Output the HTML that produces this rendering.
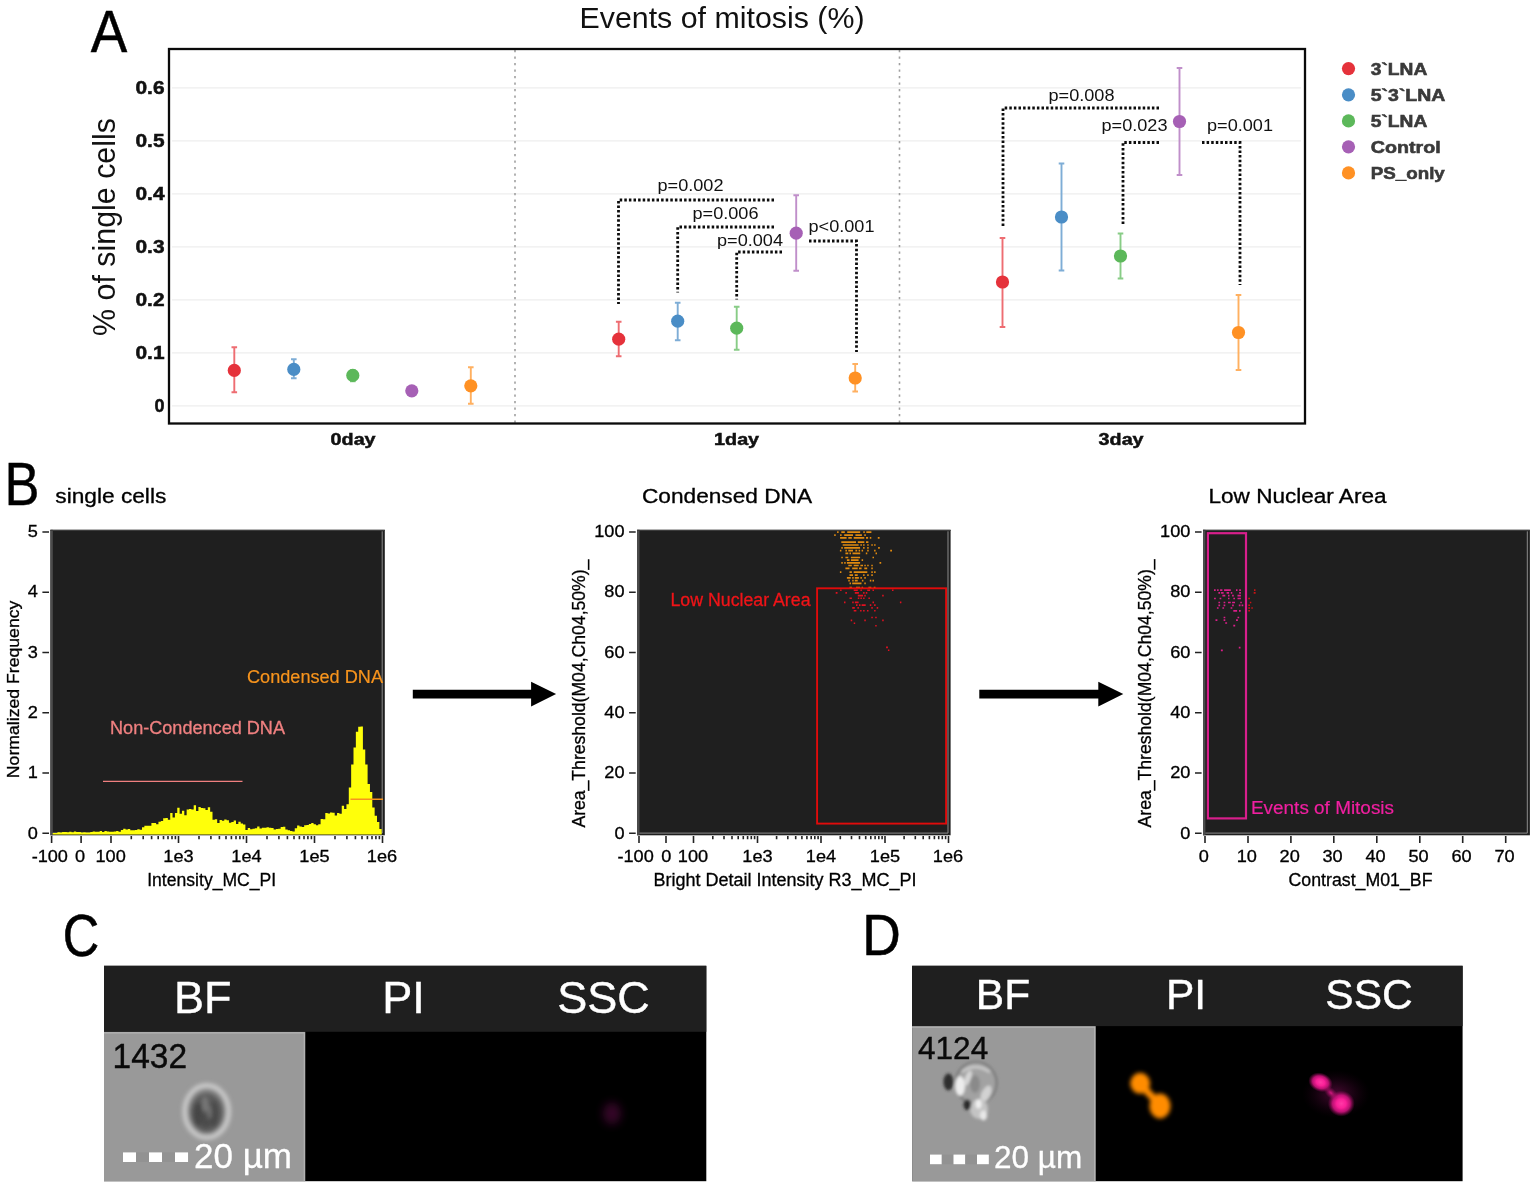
<!DOCTYPE html>
<html lang="en"><head><meta charset="utf-8"><title>Events of mitosis</title>
<style>
html,body{margin:0;padding:0;background:#fff;}
body{width:1535px;height:1187px;overflow:hidden;}
svg{display:block;}
text{font-family:"Liberation Sans", sans-serif;}
.cal{font-family:"Liberation Sans", sans-serif;}
.b{font-weight:bold;}
.tk{font-size:17.5px;fill:#111;}
.pv{font-size:17px;fill:#111;}
</style></head><body>
<svg width="1535" height="1187" viewBox="0 0 1535 1187">
<rect width="1535" height="1187" fill="#fff"/>

<g id="panelA">
<text x="90.7" y="52" font-size="60" fill="#000" textLength="36.5" lengthAdjust="spacingAndGlyphs" stroke="#000" stroke-width="0.5">A</text>
<text x="722" y="28" font-size="29" text-anchor="middle" fill="#111" textLength="285" lengthAdjust="spacingAndGlyphs">Events of mitosis (%)</text>
<text transform="translate(115,227) rotate(-90)" font-size="31" text-anchor="middle" fill="#111" textLength="218" lengthAdjust="spacingAndGlyphs">% of single cells</text>
<line x1="172" x2="1301" y1="87.9" y2="87.9" stroke="#eeeeee" stroke-width="1.4"/>
<text x="135.5" y="93.9" class="tk b" textLength="29" lengthAdjust="spacingAndGlyphs" stroke="#111" stroke-width="0.5">0.6</text>
<line x1="172" x2="1301" y1="140.9" y2="140.9" stroke="#eeeeee" stroke-width="1.4"/>
<text x="135.5" y="146.9" class="tk b" textLength="29" lengthAdjust="spacingAndGlyphs" stroke="#111" stroke-width="0.5">0.5</text>
<line x1="172" x2="1301" y1="193.9" y2="193.9" stroke="#eeeeee" stroke-width="1.4"/>
<text x="135.5" y="199.9" class="tk b" textLength="29" lengthAdjust="spacingAndGlyphs" stroke="#111" stroke-width="0.5">0.4</text>
<line x1="172" x2="1301" y1="246.9" y2="246.9" stroke="#eeeeee" stroke-width="1.4"/>
<text x="135.5" y="252.9" class="tk b" textLength="29" lengthAdjust="spacingAndGlyphs" stroke="#111" stroke-width="0.5">0.3</text>
<line x1="172" x2="1301" y1="299.9" y2="299.9" stroke="#eeeeee" stroke-width="1.4"/>
<text x="135.5" y="305.9" class="tk b" textLength="29" lengthAdjust="spacingAndGlyphs" stroke="#111" stroke-width="0.5">0.2</text>
<line x1="172" x2="1301" y1="352.9" y2="352.9" stroke="#eeeeee" stroke-width="1.4"/>
<text x="135.5" y="358.9" class="tk b" textLength="29" lengthAdjust="spacingAndGlyphs" stroke="#111" stroke-width="0.5">0.1</text>
<line x1="172" x2="1301" y1="405.9" y2="405.9" stroke="#eeeeee" stroke-width="1.4"/>
<text x="154.5" y="411.9" class="tk b" textLength="10" lengthAdjust="spacingAndGlyphs" stroke="#111" stroke-width="0.5">0</text>
<line x1="515" x2="515" y1="50" y2="423" stroke="#a0a0a0" stroke-width="1.6" stroke-dasharray="2.2 4.3"/>
<line x1="899.5" x2="899.5" y1="50" y2="423" stroke="#a0a0a0" stroke-width="1.6" stroke-dasharray="2.2 4.3"/>
<rect x="169" y="49" width="1136" height="374.5" fill="none" stroke="#0a0a0a" stroke-width="2.3"/>
<text x="330.6" y="445.3" class="b" font-size="16.5" fill="#111" textLength="45" lengthAdjust="spacingAndGlyphs" stroke="#111" stroke-width="0.5">0day</text>
<text x="714.1" y="445.3" class="b" font-size="16.5" fill="#111" textLength="45" lengthAdjust="spacingAndGlyphs" stroke="#111" stroke-width="0.5">1day</text>
<text x="1098.6" y="445.3" class="b" font-size="16.5" fill="#111" textLength="45" lengthAdjust="spacingAndGlyphs" stroke="#111" stroke-width="0.5">3day</text>
<path d="M234.3 347.3V392.3M231.5 347.3h5.6M231.5 392.3h5.6" stroke="#ee6d72" stroke-width="1.9" fill="none"/>
<circle cx="234.3" cy="370.4" r="6.6" fill="#e5323b"/>
<path d="M293.8 359.3V378.3M291.0 359.3h5.6M291.0 378.3h5.6" stroke="#7eadd6" stroke-width="1.9" fill="none"/>
<circle cx="293.8" cy="369.4" r="6.6" fill="#4a8dc6"/>
<path d="M352.8 370.3V381.3M350.0 370.3h5.6M350.0 381.3h5.6" stroke="#88cc86" stroke-width="1.9" fill="none"/>
<circle cx="352.8" cy="375.4" r="6.6" fill="#5cb85a"/>
<path d="M411.8 388.3V393.3M409.0 388.3h5.6M409.0 393.3h5.6" stroke="#c08fca" stroke-width="1.9" fill="none"/>
<circle cx="411.8" cy="390.8" r="6.6" fill="#a660b5"/>
<path d="M470.8 367.3V403.8M468.0 367.3h5.6M468.0 403.8h5.6" stroke="#ffb060" stroke-width="1.9" fill="none"/>
<circle cx="470.8" cy="385.8" r="6.6" fill="#ff9124"/>
<path d="M618.7 321.7V356.2M615.9000000000001 321.7h5.6M615.9000000000001 356.2h5.6" stroke="#ee6d72" stroke-width="1.9" fill="none"/>
<circle cx="618.7" cy="339.2" r="6.6" fill="#e5323b"/>
<path d="M677.7 302.7V340.2M674.9000000000001 302.7h5.6M674.9000000000001 340.2h5.6" stroke="#7eadd6" stroke-width="1.9" fill="none"/>
<circle cx="677.7" cy="321.2" r="6.6" fill="#4a8dc6"/>
<path d="M736.7 306.7V349.7M733.9000000000001 306.7h5.6M733.9000000000001 349.7h5.6" stroke="#88cc86" stroke-width="1.9" fill="none"/>
<circle cx="736.7" cy="328.2" r="6.6" fill="#5cb85a"/>
<path d="M796.2 195.2V270.7M793.4000000000001 195.2h5.6M793.4000000000001 270.7h5.6" stroke="#c08fca" stroke-width="1.9" fill="none"/>
<circle cx="796.2" cy="233.2" r="6.6" fill="#a660b5"/>
<path d="M855.2 364V391.5M852.4000000000001 364h5.6M852.4000000000001 391.5h5.6" stroke="#ffb060" stroke-width="1.9" fill="none"/>
<circle cx="855.2" cy="378" r="6.6" fill="#ff9124"/>
<path d="M1002.5 238V327M999.7 238h5.6M999.7 327h5.6" stroke="#ee6d72" stroke-width="1.9" fill="none"/>
<circle cx="1002.5" cy="282" r="6.6" fill="#e5323b"/>
<path d="M1061.5 163.5V270.5M1058.7 163.5h5.6M1058.7 270.5h5.6" stroke="#7eadd6" stroke-width="1.9" fill="none"/>
<circle cx="1061.5" cy="217" r="6.6" fill="#4a8dc6"/>
<path d="M1120.5 233.5V278.5M1117.7 233.5h5.6M1117.7 278.5h5.6" stroke="#88cc86" stroke-width="1.9" fill="none"/>
<circle cx="1120.5" cy="256" r="6.6" fill="#5cb85a"/>
<path d="M1179.5 68V175M1176.7 68h5.6M1176.7 175h5.6" stroke="#c08fca" stroke-width="1.9" fill="none"/>
<circle cx="1179.5" cy="121.5" r="6.6" fill="#a660b5"/>
<path d="M1238.5 295V370M1235.7 295h5.6M1235.7 370h5.6" stroke="#ffb060" stroke-width="1.9" fill="none"/>
<circle cx="1238.5" cy="332.5" r="6.6" fill="#ff9124"/>
<circle cx="1348.5" cy="68.6" r="6.6" fill="#e5323b"/>
<text x="1370.8" y="74.89999999999999" class="b" font-size="17" fill="#3a3a3a" textLength="56.5" lengthAdjust="spacingAndGlyphs" stroke="#3a3a3a" stroke-width="0.6">3`LNA</text>
<circle cx="1348.5" cy="94.8" r="6.6" fill="#4a8dc6"/>
<text x="1370.8" y="101.1" class="b" font-size="17" fill="#3a3a3a" textLength="74.5" lengthAdjust="spacingAndGlyphs" stroke="#3a3a3a" stroke-width="0.6">5`3`LNA</text>
<circle cx="1348.5" cy="120.9" r="6.6" fill="#5cb85a"/>
<text x="1370.8" y="127.2" class="b" font-size="17" fill="#3a3a3a" textLength="56.5" lengthAdjust="spacingAndGlyphs" stroke="#3a3a3a" stroke-width="0.6">5`LNA</text>
<circle cx="1348.5" cy="146.8" r="6.6" fill="#a660b5"/>
<text x="1370.8" y="153.10000000000002" class="b" font-size="17" fill="#3a3a3a" textLength="69.8" lengthAdjust="spacingAndGlyphs" stroke="#3a3a3a" stroke-width="0.6">Control</text>
<circle cx="1348.5" cy="172.9" r="6.6" fill="#ff9124"/>
<text x="1370.8" y="179.20000000000002" class="b" font-size="17" fill="#3a3a3a" textLength="74" lengthAdjust="spacingAndGlyphs" stroke="#3a3a3a" stroke-width="0.6">PS_only</text>
<path d="M774 200H618.5V304" fill="none" stroke="#0c0c0c" stroke-width="2.8" stroke-dasharray="2.5 2.1"/>
<path d="M774 227H677.7V292.5" fill="none" stroke="#0c0c0c" stroke-width="2.8" stroke-dasharray="2.5 2.1"/>
<path d="M782 252H736.7V299.5" fill="none" stroke="#0c0c0c" stroke-width="2.8" stroke-dasharray="2.5 2.1"/>
<path d="M809 241H856.5V352" fill="none" stroke="#0c0c0c" stroke-width="2.8" stroke-dasharray="2.5 2.1"/>
<path d="M1159 108H1003V228" fill="none" stroke="#0c0c0c" stroke-width="2.8" stroke-dasharray="2.5 2.1"/>
<path d="M1159 142.5H1123V226" fill="none" stroke="#0c0c0c" stroke-width="2.8" stroke-dasharray="2.5 2.1"/>
<path d="M1202 142.5H1240V285" fill="none" stroke="#0c0c0c" stroke-width="2.8" stroke-dasharray="2.5 2.1"/>
<text x="690.5" y="191" class="pv" text-anchor="middle" textLength="66" lengthAdjust="spacingAndGlyphs">p=0.002</text>
<text x="725.5" y="218.5" class="pv" text-anchor="middle" textLength="66" lengthAdjust="spacingAndGlyphs">p=0.006</text>
<text x="750" y="246" class="pv" text-anchor="middle" textLength="66" lengthAdjust="spacingAndGlyphs">p=0.004</text>
<text x="841.5" y="232" class="pv" text-anchor="middle" textLength="66" lengthAdjust="spacingAndGlyphs">p&lt;0.001</text>
<text x="1081.5" y="100.5" class="pv" text-anchor="middle" textLength="66" lengthAdjust="spacingAndGlyphs">p=0.008</text>
<text x="1134.5" y="131" class="pv" text-anchor="middle" textLength="66" lengthAdjust="spacingAndGlyphs">p=0.023</text>
<text x="1240" y="131" class="pv" text-anchor="middle" textLength="66" lengthAdjust="spacingAndGlyphs">p=0.001</text>
</g>
<g id="panelB">
<text x="4.5" y="504.5" font-size="61" fill="#000" textLength="35" lengthAdjust="spacingAndGlyphs" stroke="#000" stroke-width="0.4">B</text>
<rect x="50.4" y="529.8" width="334.40000000000003" height="305.5" fill="#1f1f1f"/>
<rect x="50.4" y="529.8" width="2.4" height="305.5" fill="#4c4c4c"/>
<rect x="50.4" y="529.8" width="334.40000000000003" height="1.2" fill="#3c3c3c"/>
<path d="M382.2 531.3V833.0999999999999H52.8" fill="none" stroke="#8c8c8c" stroke-width="1"/>
<text x="55.3" y="503" font-size="19.5" fill="#000" textLength="111" lengthAdjust="spacingAndGlyphs" stroke="#000" stroke-width="0.3">single cells</text>
<text x="37.8" y="537.1999999999999" font-size="16.5" fill="#000" text-anchor="end" textLength="10.1" lengthAdjust="spacingAndGlyphs" stroke="#000" stroke-width="0.3">5</text>
<text x="37.8" y="597.4599999999999" font-size="16.5" fill="#000" text-anchor="end" textLength="10.1" lengthAdjust="spacingAndGlyphs" stroke="#000" stroke-width="0.3">4</text>
<text x="37.8" y="657.7199999999999" font-size="16.5" fill="#000" text-anchor="end" textLength="10.1" lengthAdjust="spacingAndGlyphs" stroke="#000" stroke-width="0.3">3</text>
<text x="37.8" y="717.9799999999999" font-size="16.5" fill="#000" text-anchor="end" textLength="10.1" lengthAdjust="spacingAndGlyphs" stroke="#000" stroke-width="0.3">2</text>
<text x="37.8" y="778.24" font-size="16.5" fill="#000" text-anchor="end" textLength="10.1" lengthAdjust="spacingAndGlyphs" stroke="#000" stroke-width="0.3">1</text>
<text x="37.8" y="838.5" font-size="16.5" fill="#000" text-anchor="end" textLength="10.1" lengthAdjust="spacingAndGlyphs" stroke="#000" stroke-width="0.3">0</text>
<path d="M42.4 531.9h6.6M42.4 592.16h6.6M42.4 652.42h6.6M42.4 712.68h6.6M42.4 772.94h6.6M42.4 833.2h6.6" stroke="#222" stroke-width="1.5" fill="none"/>
<text transform="translate(18.6,689.4) rotate(-90)" font-size="17" fill="#000" stroke="#000" stroke-width="0.3" text-anchor="middle" textLength="177.5" lengthAdjust="spacingAndGlyphs">Normalized Frequency</text>
<text x="49.8" y="862" font-size="16.5" fill="#000" text-anchor="middle" textLength="36.3" lengthAdjust="spacingAndGlyphs" stroke="#000" stroke-width="0.3">-100</text>
<text x="80.1" y="862" font-size="16.5" fill="#000" text-anchor="middle" textLength="10.1" lengthAdjust="spacingAndGlyphs" stroke="#000" stroke-width="0.3">0</text>
<text x="110.6" y="862" font-size="16.5" fill="#000" text-anchor="middle" textLength="30.3" lengthAdjust="spacingAndGlyphs" stroke="#000" stroke-width="0.3">100</text>
<text x="178.5" y="862" font-size="16.5" fill="#000" text-anchor="middle" textLength="30.3" lengthAdjust="spacingAndGlyphs" stroke="#000" stroke-width="0.3">1e3</text>
<text x="246.5" y="862" font-size="16.5" fill="#000" text-anchor="middle" textLength="30.3" lengthAdjust="spacingAndGlyphs" stroke="#000" stroke-width="0.3">1e4</text>
<text x="314.5" y="862" font-size="16.5" fill="#000" text-anchor="middle" textLength="30.3" lengthAdjust="spacingAndGlyphs" stroke="#000" stroke-width="0.3">1e5</text>
<text x="382" y="862" font-size="16.5" fill="#000" text-anchor="middle" textLength="30.3" lengthAdjust="spacingAndGlyphs" stroke="#000" stroke-width="0.3">1e6</text>
<text x="211.7" y="886" font-size="18" fill="#000" text-anchor="middle" textLength="129" lengthAdjust="spacingAndGlyphs" stroke="#000" stroke-width="0.3">Intensity_MC_PI</text>
<path d="M51.6 836v7M81.1 836v7M111 836v7M178.5 836v7M246.5 836v7M314.5 836v7M382.5 836v7M131.3 836v3.2M143.2 836v3.2M151.6 836v3.2M158.2 836v3.2M163.5 836v3.2M168.0 836v3.2M172.0 836v3.2M175.4 836v3.2M199.0 836v3.2M210.9 836v3.2M219.4 836v3.2M226.0 836v3.2M231.4 836v3.2M236.0 836v3.2M239.9 836v3.2M243.4 836v3.2M267.0 836v3.2M278.9 836v3.2M287.4 836v3.2M294.0 836v3.2M299.4 836v3.2M304.0 836v3.2M307.9 836v3.2M311.4 836v3.2M335.0 836v3.2M346.9 836v3.2M355.4 836v3.2M362.0 836v3.2M367.4 836v3.2M372.0 836v3.2M375.9 836v3.2M379.4 836v3.2" stroke="#222" stroke-width="1.6" fill="none"/>
<path d="M52.7 834.4V832.9h2.35V832.9h2.35V832.3h2.35V832.6h2.35V832.0h2.35V832.1h2.35V832.3h2.35V831.8h2.35V832.2h2.35V831.6h2.35V832.0h2.35V831.9h2.35V832.5h2.35V832.2h2.35V832.6h2.35V832.4h2.35V831.9h2.35V831.5h2.35V831.8h2.35V831.8h2.35V831.1h2.35V832.0h2.35V830.9h2.35V831.6h2.35V831.8h2.35V831.8h2.35V831.6h2.35V831.0h2.35V831.7h2.35V830.1h2.35V828.7h2.35V829.4h2.35V829.1h2.35V830.2h2.35V830.3h2.35V830.1h2.35V829.3h2.35V829.8h2.35V827.2h2.35V825.8h2.35V825.7h2.35V825.7h2.35V823.1h2.35V822.9h2.35V824.3h2.35V821.8h2.35V821.1h2.35V818.2h2.35V818.0h2.35V819.8h2.35V812.9h2.35V817.4h2.35V813.0h2.35V807.8h2.35V813.8h2.35V810.8h2.35V815.3h2.35V809.6h2.35V808.9h2.35V809.5h2.35V805.3h2.35V811.0h2.35V807.1h2.35V808.1h2.35V808.3h2.35V810.1h2.35V807.3h2.35V811.8h2.35V819.8h2.35V819.2h2.35V823.0h2.35V820.0h2.35V820.8h2.35V819.5h2.35V820.2h2.35V822.7h2.35V822.0h2.35V820.4h2.35V823.9h2.35V821.8h2.35V823.5h2.35V824.4h2.35V829.9h2.35V828.1h2.35V829.3h2.35V828.8h2.35V828.2h2.35V826.6h2.35V828.6h2.35V827.8h2.35V827.8h2.35V827.3h2.35V827.7h2.35V828.0h2.35V829.5h2.35V828.9h2.35V828.7h2.35V827.1h2.35V826.8h2.35V829.6h2.35V830.3h2.35V831.0h2.35V831.4h2.35V828.3h2.35V825.6h2.35V826.4h2.35V827.1h2.35V825.2h2.35V825.1h2.35V824.1h2.35V822.9h2.35V824.2h2.35V825.2h2.35V824.3h2.35V819.0h2.35V819.3h2.35V812.9h2.35V813.5h2.35V812.5h2.35V812.8h2.35V815.4h2.35V813.1h2.35V813.7h2.35V805.8h2.35V809.1h2.35V804.2h2.35V787.6h2.35V764.4h2.35V747.5h2.35V731.8h2.35V726.8h2.35V726.5h2.35V749.4h2.35V764.5h2.35V784.1h2.35V792.0h2.35V807.5h2.35V815.7h2.35V822.1h2.35V829.0h2.35V834.4h2.35V834.4Z" fill="#ffff0a"/>
<line x1="103" x2="242.5" y1="781.4" y2="781.4" stroke="#f08080" stroke-width="1.4"/>
<line x1="350.5" x2="383" y1="799.3" y2="799.3" stroke="#f7941d" stroke-width="1.4"/>
<text x="247" y="682.5" font-size="18" fill="#f7941d" textLength="136" lengthAdjust="spacingAndGlyphs" stroke="#f7941d" stroke-width="0.2">Condensed DNA</text>
<text x="110" y="733.8" font-size="18" fill="#f08080" textLength="175" lengthAdjust="spacingAndGlyphs" stroke="#f08080" stroke-width="0.3">Non-Condenced DNA</text>
<path d="M412.8 689.8000000000001H531.1V681.8000000000001L556.1 694.1L531.1 706.4V698.4H412.8Z" fill="#000"/>
<path d="M979.3 689.8000000000001H1098.3V681.8000000000001L1123.3 694.1L1098.3 706.4V698.4H979.3Z" fill="#000"/>
<rect x="637.1" y="529.8" width="313.5" height="305.5" fill="#1f1f1f"/>
<rect x="637.1" y="529.8" width="2.4" height="305.5" fill="#4c4c4c"/>
<rect x="637.1" y="529.8" width="313.5" height="1.2" fill="#3c3c3c"/>
<path d="M948.0 531.3V833.0999999999999H639.5" fill="none" stroke="#8c8c8c" stroke-width="1"/>
<text x="642" y="503" font-size="19.5" fill="#000" textLength="170" lengthAdjust="spacingAndGlyphs" stroke="#000" stroke-width="0.3">Condensed DNA</text>
<text x="624.5" y="537.1999999999999" font-size="16.5" fill="#000" text-anchor="end" textLength="30.3" lengthAdjust="spacingAndGlyphs" stroke="#000" stroke-width="0.3">100</text>
<text x="624.5" y="597.4599999999999" font-size="16.5" fill="#000" text-anchor="end" textLength="20.2" lengthAdjust="spacingAndGlyphs" stroke="#000" stroke-width="0.3">80</text>
<text x="624.5" y="657.7199999999999" font-size="16.5" fill="#000" text-anchor="end" textLength="20.2" lengthAdjust="spacingAndGlyphs" stroke="#000" stroke-width="0.3">60</text>
<text x="624.5" y="717.9799999999999" font-size="16.5" fill="#000" text-anchor="end" textLength="20.2" lengthAdjust="spacingAndGlyphs" stroke="#000" stroke-width="0.3">40</text>
<text x="624.5" y="778.24" font-size="16.5" fill="#000" text-anchor="end" textLength="20.2" lengthAdjust="spacingAndGlyphs" stroke="#000" stroke-width="0.3">20</text>
<text x="624.5" y="838.5" font-size="16.5" fill="#000" text-anchor="end" textLength="10.1" lengthAdjust="spacingAndGlyphs" stroke="#000" stroke-width="0.3">0</text>
<path d="M629.1 531.9h6.6M629.1 592.16h6.6M629.1 652.42h6.6M629.1 712.68h6.6M629.1 772.94h6.6M629.1 833.2h6.6" stroke="#222" stroke-width="1.5" fill="none"/>
<text transform="translate(585.4,693.6) rotate(-90)" font-size="18.5" fill="#000" stroke="#000" stroke-width="0.3" text-anchor="middle" textLength="268" lengthAdjust="spacingAndGlyphs">Area_Threshold(M04,Ch04,50%)_</text>
<text x="635.6" y="862" font-size="16.5" fill="#000" text-anchor="middle" textLength="36.3" lengthAdjust="spacingAndGlyphs" stroke="#000" stroke-width="0.3">-100</text>
<text x="666.2" y="862" font-size="16.5" fill="#000" text-anchor="middle" textLength="10.1" lengthAdjust="spacingAndGlyphs" stroke="#000" stroke-width="0.3">0</text>
<text x="693" y="862" font-size="16.5" fill="#000" text-anchor="middle" textLength="30.3" lengthAdjust="spacingAndGlyphs" stroke="#000" stroke-width="0.3">100</text>
<text x="757.5" y="862" font-size="16.5" fill="#000" text-anchor="middle" textLength="30.3" lengthAdjust="spacingAndGlyphs" stroke="#000" stroke-width="0.3">1e3</text>
<text x="821" y="862" font-size="16.5" fill="#000" text-anchor="middle" textLength="30.3" lengthAdjust="spacingAndGlyphs" stroke="#000" stroke-width="0.3">1e4</text>
<text x="885" y="862" font-size="16.5" fill="#000" text-anchor="middle" textLength="30.3" lengthAdjust="spacingAndGlyphs" stroke="#000" stroke-width="0.3">1e5</text>
<text x="948" y="862" font-size="16.5" fill="#000" text-anchor="middle" textLength="30.3" lengthAdjust="spacingAndGlyphs" stroke="#000" stroke-width="0.3">1e6</text>
<path d="M639 836v7M666 836v7M693.5 836v7M757.5 836v7M821 836v7M885 836v7M948.5 836v7M712.8 836v3.2M724.0 836v3.2M732.0 836v3.2M738.2 836v3.2M743.3 836v3.2M747.6 836v3.2M751.3 836v3.2M754.6 836v3.2M776.6 836v3.2M787.8 836v3.2M795.7 836v3.2M801.9 836v3.2M806.9 836v3.2M811.2 836v3.2M814.8 836v3.2M818.1 836v3.2M840.3 836v3.2M851.5 836v3.2M859.5 836v3.2M865.7 836v3.2M870.8 836v3.2M875.1 836v3.2M878.8 836v3.2M882.1 836v3.2M904.1 836v3.2M915.3 836v3.2M923.2 836v3.2M929.4 836v3.2M934.4 836v3.2M938.7 836v3.2M942.3 836v3.2M945.6 836v3.2" stroke="#222" stroke-width="1.6" fill="none"/>
<text x="785" y="886" font-size="18" fill="#000" text-anchor="middle" textLength="263" lengthAdjust="spacingAndGlyphs" stroke="#000" stroke-width="0.3">Bright Detail Intensity R3_MC_PI</text>
<path d="M837.1 532.1h1.5M841.3 532.1h3.5M847.2 532.1h13.0M863.3 532.1h1.5M866.3 532.1h5.1M834.2 535.1h1.5M840.1 535.1h1.5M844.2 535.1h8.8M855.4 535.1h6.5M864.3 535.1h1.5M840.1 537.9h6.5M848.3 537.9h3.5M853.7 537.9h10.6M866.0 537.9h2.1M869.8 537.9h1.5M877.8 537.9h1.8M841.3 542.1h14.7M857.8 542.1h6.5M866.0 542.1h2.4M842.7 545.0h15.9M860.4 545.0h1.5M863.1 545.0h1.5M867.2 545.0h1.5M871.3 545.0h1.5M874.1 545.0h1.5M841.3 547.9h1.5M844.2 547.9h15.9M863.1 547.9h1.5M867.2 547.9h1.5M878.1 547.9h1.7M839.9 550.7h1.5M845.4 550.7h1.5M848.3 550.7h4.7M855.4 550.7h1.8M858.6 550.7h1.5M861.6 550.7h1.5M867.2 550.7h1.5M874.1 550.7h1.5M890.2 550.7h1.8M845.4 553.4h2.9M849.5 553.4h1.5M852.5 553.4h7.7M865.8 553.4h1.5M875.5 553.4h1.5M841.3 557.5h1.5M845.4 557.5h2.9M850.9 557.5h9.2M872.5 557.5h1.5M846.9 560.1h2.6M850.9 560.1h7.7M861.6 560.1h1.5M841.3 562.8h1.5M844.2 562.8h1.5M846.9 562.8h13.2M879.5 562.8h1.7M848.3 565.5h3.5M853.7 565.5h5.0M860.4 565.5h2.6M864.3 565.5h1.5M867.2 565.5h1.5M871.3 565.5h1.5M845.4 568.3h4.1M852.2 568.3h5.5M859.0 568.3h2.6M864.3 568.3h2.9M871.3 568.3h1.5M839.9 572.2h1.5M849.5 572.2h2.4M853.7 572.2h13.6M871.3 572.2h1.5M874.1 572.2h1.5M849.5 575.1h3.5M854.8 575.1h2.9M863.1 575.1h1.5M867.2 575.1h1.5M871.3 575.1h1.5M846.9 577.9h3.8M852.2 577.9h1.5M854.8 577.9h4.1M860.4 577.9h1.5M864.3 577.9h1.5M848.3 580.7h1.5M852.2 580.7h1.5M854.8 580.7h2.9M861.9 580.7h1.5M869.8 580.7h1.5M872.5 580.7h1.5M849.5 583.4h1.5M852.2 583.4h9.3M864.3 583.4h1.5M849.5 587.5h2.4M856.0 587.5h4.1M861.6 587.5h1.5M868.4 587.5h2.9M873.7 587.5h1.8" stroke="#e08a10" stroke-width="1.7" fill="none"/>
<path d="M840.1 590.2h1.5M853.7 590.2h4.1M860.4 590.2h1.5M867.2 590.2h2.9M872.5 590.2h1.5M892.0 590.2h1.5M835.7 592.9h1.8M845.4 592.9h1.5M854.8 592.9h4.1M863.1 592.9h1.5M865.8 592.9h1.5M857.8 595.6h5.3M864.3 595.6h1.5M882.2 595.6h1.5M849.5 598.3h2.4M857.8 598.3h1.5M860.4 598.3h1.5M863.1 598.3h1.5M868.4 598.3h1.5M844.0 602.4h1.5M852.2 602.4h1.5M854.8 602.4h3.8M872.5 602.4h1.5M899.9 602.4h1.5M856.0 605.1h1.5M859.0 605.1h1.5M861.6 605.1h4.1M869.8 605.1h1.5M874.1 605.1h1.5M852.2 607.9h2.6M857.4 607.9h1.5M871.3 607.9h1.5M876.7 607.9h1.5M853.7 610.7h2.7M860.1 610.7h1.5M863.1 610.7h1.5M867.0 610.7h1.5M874.1 610.7h1.5M871.3 617.5h1.5M875.2 617.5h1.5M850.7 620.4h1.5M864.3 620.4h1.5M882.2 620.4h1.5M853.7 623.2h1.5M875.2 625.8h1.5M886.1 647.4h1.8M887.9 650.3h1.5" stroke="#e21020" stroke-width="1.6" fill="none"/>
<rect x="817.1" y="588.3" width="129" height="235.3" fill="none" stroke="#e00b0b" stroke-width="1.9"/>
<text x="670.5" y="605.9" font-size="18" fill="#f01418" textLength="140" lengthAdjust="spacingAndGlyphs" stroke="#f01418" stroke-width="0.3">Low Nuclear Area</text>
<rect x="1203" y="529.8" width="326.9000000000001" height="305.5" fill="#1f1f1f"/>
<rect x="1203" y="529.8" width="2.4" height="305.5" fill="#4c4c4c"/>
<rect x="1203" y="529.8" width="326.9000000000001" height="1.2" fill="#3c3c3c"/>
<path d="M1527.3000000000002 531.3V833.0999999999999H1205.4" fill="none" stroke="#8c8c8c" stroke-width="1"/>
<text x="1208.5" y="503" font-size="19.5" fill="#000" textLength="178" lengthAdjust="spacingAndGlyphs" stroke="#000" stroke-width="0.3">Low Nuclear Area</text>
<text x="1190.4" y="537.1999999999999" font-size="16.5" fill="#000" text-anchor="end" textLength="30.3" lengthAdjust="spacingAndGlyphs" stroke="#000" stroke-width="0.3">100</text>
<text x="1190.4" y="597.4599999999999" font-size="16.5" fill="#000" text-anchor="end" textLength="20.2" lengthAdjust="spacingAndGlyphs" stroke="#000" stroke-width="0.3">80</text>
<text x="1190.4" y="657.7199999999999" font-size="16.5" fill="#000" text-anchor="end" textLength="20.2" lengthAdjust="spacingAndGlyphs" stroke="#000" stroke-width="0.3">60</text>
<text x="1190.4" y="717.9799999999999" font-size="16.5" fill="#000" text-anchor="end" textLength="20.2" lengthAdjust="spacingAndGlyphs" stroke="#000" stroke-width="0.3">40</text>
<text x="1190.4" y="778.24" font-size="16.5" fill="#000" text-anchor="end" textLength="20.2" lengthAdjust="spacingAndGlyphs" stroke="#000" stroke-width="0.3">20</text>
<text x="1190.4" y="838.5" font-size="16.5" fill="#000" text-anchor="end" textLength="10.1" lengthAdjust="spacingAndGlyphs" stroke="#000" stroke-width="0.3">0</text>
<path d="M1195 531.9h6.6M1195 592.16h6.6M1195 652.42h6.6M1195 712.68h6.6M1195 772.94h6.6M1195 833.2h6.6" stroke="#222" stroke-width="1.5" fill="none"/>
<text transform="translate(1150.6,693.4) rotate(-90)" font-size="18.5" fill="#000" stroke="#000" stroke-width="0.3" text-anchor="middle" textLength="268" lengthAdjust="spacingAndGlyphs">Area_Threshold(M04,Ch04,50%)_</text>
<text x="1203.8" y="862" font-size="16.5" fill="#000" text-anchor="middle" textLength="10.1" lengthAdjust="spacingAndGlyphs" stroke="#000" stroke-width="0.3">0</text>
<text x="1246.8" y="862" font-size="16.5" fill="#000" text-anchor="middle" textLength="20.2" lengthAdjust="spacingAndGlyphs" stroke="#000" stroke-width="0.3">10</text>
<text x="1289.7" y="862" font-size="16.5" fill="#000" text-anchor="middle" textLength="20.2" lengthAdjust="spacingAndGlyphs" stroke="#000" stroke-width="0.3">20</text>
<text x="1332.6" y="862" font-size="16.5" fill="#000" text-anchor="middle" textLength="20.2" lengthAdjust="spacingAndGlyphs" stroke="#000" stroke-width="0.3">30</text>
<text x="1375.6" y="862" font-size="16.5" fill="#000" text-anchor="middle" textLength="20.2" lengthAdjust="spacingAndGlyphs" stroke="#000" stroke-width="0.3">40</text>
<text x="1418.5" y="862" font-size="16.5" fill="#000" text-anchor="middle" textLength="20.2" lengthAdjust="spacingAndGlyphs" stroke="#000" stroke-width="0.3">50</text>
<text x="1461.5" y="862" font-size="16.5" fill="#000" text-anchor="middle" textLength="20.2" lengthAdjust="spacingAndGlyphs" stroke="#000" stroke-width="0.3">60</text>
<text x="1504.5" y="862" font-size="16.5" fill="#000" text-anchor="middle" textLength="20.2" lengthAdjust="spacingAndGlyphs" stroke="#000" stroke-width="0.3">70</text>
<path d="M1205.0 836v7M1248.0 836v7M1290.9 836v7M1333.8 836v7M1376.8 836v7M1419.8 836v7M1462.7 836v7M1505.7 836v7" stroke="#222" stroke-width="1.6" fill="none"/>
<text x="1360.5" y="886" font-size="18" fill="#000" text-anchor="middle" textLength="144" lengthAdjust="spacingAndGlyphs" stroke="#000" stroke-width="0.3">Contrast_M01_BF</text>
<path d="M1214.0 590.1h1.7M1217.1 590.1h1.5M1220.1 590.1h2.3M1224.1 590.1h6.7M1236.0 590.1h1.5M1239.2 590.1h1.7M1218.4 592.9h1.7M1221.1 592.9h2.5M1226.6 592.9h2.5M1230.8 592.9h1.5M1239.2 592.9h1.7M1222.4 595.6h2.9M1228.0 595.6h1.5M1232.1 595.6h1.7M1237.5 595.6h3.4M1214.1 598.5h1.7M1219.6 598.5h1.7M1228.0 598.5h1.5M1233.3 598.5h1.7M1237.5 598.5h3.4M1218.4 602.5h1.7M1223.6 602.5h1.7M1228.0 602.5h2.8M1232.1 602.5h2.9M1240.3 602.5h1.5M1218.4 605.3h1.7M1223.6 605.3h1.7M1232.1 605.3h1.7M1238.8 605.3h1.7M1241.6 605.3h1.7M1216.9 608.0h1.7M1222.4 608.0h1.7M1230.6 608.0h1.7M1233.3 610.8h3.8M1239.0 610.8h1.7M1223.6 617.5h1.7M1237.5 617.5h1.7M1215.5 620.2h1.9M1223.6 620.2h1.7M1236.0 620.2h1.9M1225.2 623.0h1.9M1233.3 625.7h1.9M1238.8 647.6h1.7M1220.9 650.3h1.9" stroke="#d81e88" stroke-width="1.7" fill="none"/>
<path d="M1254.0 590.1h1.5M1253.7 592.9h1.9M1248.3 598.5h1.7M1249.8 602.5h1.5M1248.3 605.3h1.7M1248.3 608.0h1.7M1251.3 608.0h1.5M1248.3 610.8h1.7" stroke="#c81414" stroke-width="1.6" fill="none"/>
<rect x="1207.9" y="533.2" width="38.1" height="285.2" fill="none" stroke="#d81f8c" stroke-width="2.2"/>
<text x="1251" y="814" font-size="18" fill="#f01fa0" textLength="143" lengthAdjust="spacingAndGlyphs" stroke="#f01fa0" stroke-width="0.2">Events of Mitosis</text>
</g>
<defs>
<filter id="bl1" x="-50%" y="-50%" width="200%" height="200%"><feGaussianBlur stdDeviation="1.6"/></filter>
<filter id="bl2" x="-50%" y="-50%" width="200%" height="200%"><feGaussianBlur stdDeviation="2.2"/></filter>
<radialGradient id="halo"><stop offset="0" stop-color="#8a1060" stop-opacity="0.55"/><stop offset="0.5" stop-color="#5a0a40" stop-opacity="0.3"/><stop offset="1" stop-color="#300020" stop-opacity="0"/></radialGradient>
<radialGradient id="mg"><stop offset="0" stop-color="#ff3aa6"/><stop offset="0.35" stop-color="#fa2098"/><stop offset="0.65" stop-color="#d81484" stop-opacity="0.85"/><stop offset="1" stop-color="#a00c60" stop-opacity="0"/></radialGradient>
<radialGradient id="mg2"><stop offset="0" stop-color="#e01888" stop-opacity="0.9"/><stop offset="1" stop-color="#a00c60" stop-opacity="0"/></radialGradient>
<filter id="bl4" x="-50%" y="-50%" width="200%" height="200%"><feGaussianBlur stdDeviation="5"/></filter>
</defs>
<g id="panelC">
<text x="62.8" y="956" font-size="60" fill="#000" stroke="#000" stroke-width="0.6" textLength="36.5" lengthAdjust="spacingAndGlyphs">C</text>
<rect x="104" y="965.8" width="602.3" height="215.4000000000001" fill="#000"/>
<rect x="104" y="1031.5" width="201.3" height="149.70000000000005" fill="#999999"/>
<path d="M104 1032.9H304.3V1181.2" fill="none" stroke="#b4b4b4" stroke-width="1.2"/>
<rect x="104" y="965.8" width="602.3" height="66.00000000000004" fill="#1f1f1f"/>
<text x="202.8" y="1013" font-size="45" fill="#fff" stroke="#fff" stroke-width="0.4" text-anchor="middle">BF</text>
<text x="403.5" y="1013" font-size="45" fill="#fff" stroke="#fff" stroke-width="0.4" text-anchor="middle">PI</text>
<text x="603.4" y="1013" font-size="45" fill="#fff" stroke="#fff" stroke-width="0.4" text-anchor="middle">SSC</text>
<text x="112.6" y="1068.4" font-size="34.5" fill="#0a0a0a" stroke="#0a0a0a" stroke-width="0.4" textLength="74.5" lengthAdjust="spacingAndGlyphs">1432</text>
<rect x="123.0" y="1152.4" width="13.05" height="9.6" fill="#fff"/>
<rect x="136.0" y="1152.4" width="13.05" height="9.6" fill="#929292"/>
<rect x="149.0" y="1152.4" width="13.05" height="9.6" fill="#fff"/>
<rect x="162.0" y="1152.4" width="13.05" height="9.6" fill="#929292"/>
<rect x="175.0" y="1152.4" width="13.05" height="9.6" fill="#fff"/>
<text x="194" y="1168" font-size="35" fill="#fff" stroke="#fff" stroke-width="0.3">20 µm</text>
<g filter="url(#bl2)"><ellipse cx="206.7" cy="1111.5" rx="22" ry="26" fill="#888888" stroke="#cdcdcd" stroke-width="4.5"/><ellipse cx="206.7" cy="1112.5" rx="16.5" ry="20" fill="#5c5c5c"/><ellipse cx="198" cy="1114" rx="4.5" ry="12" fill="#454545"/><ellipse cx="214" cy="1114" rx="4.5" ry="13" fill="#484848"/><ellipse cx="206" cy="1120" rx="6" ry="8" fill="#4c4c4c"/><ellipse cx="205" cy="1104" rx="2.5" ry="8" fill="#7c7c7c"/><ellipse cx="209.5" cy="1112" rx="2" ry="7" fill="#757575"/></g>
<ellipse cx="612" cy="1113.5" rx="9" ry="11" fill="#7a0f5c" opacity="0.45" filter="url(#bl4)"/>
</g>
<g id="panelD">
<text x="862.3" y="955.2" font-size="58" fill="#000" stroke="#000" stroke-width="0.6" textLength="38.5" lengthAdjust="spacingAndGlyphs">D</text>
<rect x="912.1" y="965.8" width="550.4999999999999" height="215.4000000000001" fill="#000"/>
<rect x="912.1" y="1025.8" width="183.60000000000002" height="155.4000000000001" fill="#999999"/>
<path d="M912.1 1027.2H1094.7V1181.2" fill="none" stroke="#b4b4b4" stroke-width="1.2"/>
<rect x="912.1" y="965.8" width="550.4999999999999" height="60.3" fill="#1f1f1f"/>
<text x="1003" y="1008.8" font-size="42.5" fill="#fff" stroke="#fff" stroke-width="0.4" text-anchor="middle">BF</text>
<text x="1186" y="1008.8" font-size="42.5" fill="#fff" stroke="#fff" stroke-width="0.4" text-anchor="middle">PI</text>
<text x="1369" y="1008.8" font-size="42.5" fill="#fff" stroke="#fff" stroke-width="0.4" text-anchor="middle">SSC</text>
<text x="918" y="1059.3" font-size="32" fill="#0a0a0a" stroke="#0a0a0a" stroke-width="0.4" textLength="70.2" lengthAdjust="spacingAndGlyphs">4124</text>
<rect x="930.0" y="1154.6" width="11.81" height="9.6" fill="#fff"/>
<rect x="941.8" y="1154.6" width="11.81" height="9.6" fill="#929292"/>
<rect x="953.5" y="1154.6" width="11.81" height="9.6" fill="#fff"/>
<rect x="965.3" y="1154.6" width="11.81" height="9.6" fill="#929292"/>
<rect x="977.0" y="1154.6" width="11.81" height="9.6" fill="#fff"/>
<text x="994" y="1168" font-size="31.5" fill="#fff" stroke="#fff" stroke-width="0.3">20 µm</text>
<g filter="url(#bl1)"><ellipse cx="976" cy="1083" rx="20.5" ry="21" fill="#a2a2a2" stroke="#787878" stroke-width="2.2"/><path d="M962 1072Q975 1062 990 1072" stroke="#c8c8c8" stroke-width="3" fill="none"/><ellipse cx="960" cy="1086" rx="5" ry="10" fill="#ececec"/><ellipse cx="968" cy="1078" rx="3" ry="8" fill="#d6d6d6" transform="rotate(20 968 1078)"/><ellipse cx="986" cy="1094" rx="4.5" ry="9" fill="#d2d2d2" transform="rotate(25 986 1094)"/><ellipse cx="975" cy="1084" rx="5" ry="9" fill="#8a8a8a"/><ellipse cx="948.4" cy="1082" rx="5" ry="8.5" fill="#2e2e2e"/><ellipse cx="979" cy="1109" rx="9" ry="10" fill="#c4c4c4"/><ellipse cx="967.3" cy="1104.7" rx="3.8" ry="5.5" fill="#2c2c2c"/><ellipse cx="978.5" cy="1104" rx="3" ry="4.5" fill="#f0f0f0"/><ellipse cx="983.5" cy="1115.5" rx="3.5" ry="5" fill="#e8e8e8"/></g>
<g filter="url(#bl2)"><ellipse cx="1140.2" cy="1083.3" rx="10" ry="10.5" fill="#ff8c00"/><ellipse cx="1160" cy="1106" rx="10.5" ry="12.5" fill="#ff8c00"/><path d="M1143 1087L1157 1102" stroke="#ff8c00" stroke-width="7"/></g>
<ellipse cx="1336" cy="1094" rx="34" ry="24" fill="url(#halo)"/>
<ellipse cx="1320.5" cy="1082.3" rx="12.5" ry="9.5" fill="url(#mg)" transform="rotate(20 1320.5 1082.3)"/>
<ellipse cx="1341.3" cy="1103.6" rx="13.5" ry="13" fill="url(#mg)"/>
<ellipse cx="1331" cy="1093" rx="9" ry="5" fill="url(#mg2)" transform="rotate(45 1331 1093)"/>
</g>
</svg></body></html>
